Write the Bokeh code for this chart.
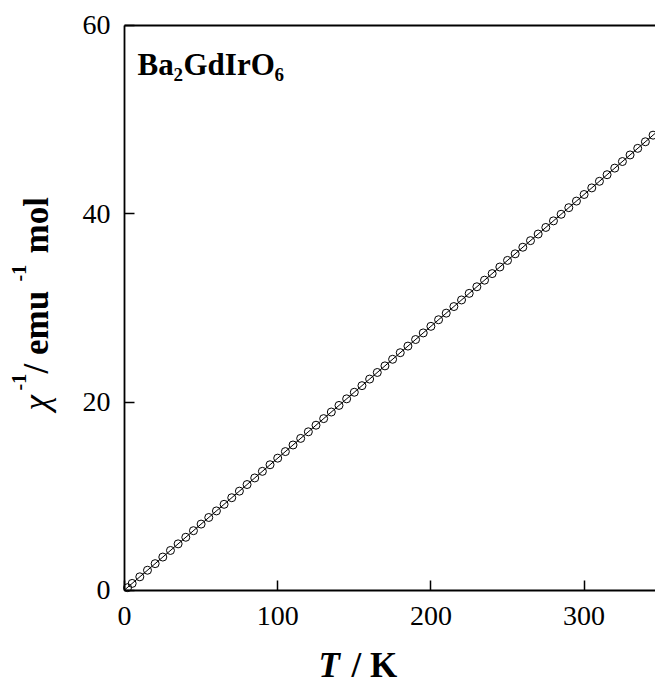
import math
from bokeh.plotting import figure
from bokeh.models import LinearAxis, Label, FixedTicker, Range1d
from bokeh.embed import file_html
from bokeh.resources import INLINE

# Data
temperature = [2, 5, 10, 15, 20, 25, 30, 35, 40, 45, 50, 55, 60, 65, 70, 75, 80, 85, 90, 95,
               100, 105, 110, 115, 120, 125, 130, 135, 140, 145, 150, 155, 160, 165, 170, 175,
               180, 185, 190, 195, 200, 205, 210, 215, 220, 225, 230, 235, 240, 245, 250, 255,
               260, 265, 270, 275, 280, 285, 290, 295, 300, 305, 310, 315, 320, 325, 330, 335,
               340, 345, 350]
inv_chi = [0.30, 0.75, 1.45, 2.15, 2.85, 3.55, 4.25, 4.95, 5.65, 6.35, 7.05, 7.75, 8.45, 9.15,
           9.85, 10.55, 11.25, 11.95, 12.65, 13.35, 14.05, 14.75, 15.45, 16.15, 16.85, 17.55,
           18.25, 18.95, 19.65, 20.35, 21.05, 21.75, 22.45, 23.15, 23.85, 24.55, 25.25, 25.95,
           26.65, 27.35, 28.05, 28.75, 29.45, 30.15, 30.85, 31.55, 32.25, 32.95, 33.65, 34.35,
           35.05, 35.75, 36.45, 37.15, 37.85, 38.55, 39.25, 39.95, 40.65, 41.35, 42.05, 42.75,
           43.45, 44.15, 44.85, 45.55, 46.25, 46.95, 47.65, 48.35, 49.05]
fit_t = [0, 350]
fit_v = [0.05, 49.05]
x_ticks = [0, 100, 200, 300]
y_ticks = [0, 20, 40, 60]
X_MAX = 346.6
Y_MAX = 60

SERIF = "Liberation Serif"
W, H = 655, 685

# frame covers the whole canvas; axes are fixed at T=0 / value=0
p = figure(width=W, height=H, output_backend="svg", toolbar_location=None,
           x_range=Range1d(-80.94, X_MAX), y_range=Range1d(-10.09, 62.65),
           min_border=0, x_axis_location=None, y_axis_location=None)
p.outline_line_color = None
p.grid.visible = False
p.background_fill_color = "white"
p.border_fill_color = "white"

def style(ax, ticks):
    ax.ticker = FixedTicker(ticks=ticks)
    ax.axis_line_width = 1.8
    ax.axis_line_color = "black"
    ax.major_tick_in = 10
    ax.major_tick_out = 0
    ax.major_tick_line_width = 1.5
    ax.major_tick_line_color = "black"
    ax.minor_tick_line_color = None
    ax.major_label_text_font = SERIF
    ax.major_label_text_font_size = "28px"
    ax.major_label_text_color = "black"

xb = LinearAxis(fixed_location=0, bounds=(0, X_MAX))
style(xb, x_ticks)
xb.major_label_standoff = 17
p.add_layout(xb, "below")

yl = LinearAxis(fixed_location=0, bounds=(0, Y_MAX))
style(yl, y_ticks)
yl.major_label_standoff = 14
p.add_layout(yl, "left")

xt = LinearAxis(fixed_location=Y_MAX, bounds=(0, X_MAX))
style(xt, [])
p.add_layout(xt, "above")

# fit line and data
p.line(fit_t, fit_v, line_color="black", line_width=1)
p.scatter(temperature, inv_chi, marker="circle", size=8, fill_color=None,
          line_color="black", line_width=1)

# helpers: page coords -> data coords
def dx(px):
    return (px - 124) / 1.532

def dy(py):
    return (590 - py) / 9.417

def lab(text, px, py, size, style="bold", angle=0.0):
    p.add_layout(Label(x=dx(px), y=dy(py), text=text, text_font=SERIF,
                       text_font_size=f"{size}px", text_font_style=style,
                       text_color="black", angle=angle, angle_units="rad",
                       text_align="left", text_baseline="alphabetic"))

# compound name
lab("Ba", 137, 64, 31)
lab("2", 173, 74, 19)
lab("GdIrO", 183, 64, 31)
lab("6", 274, 74, 19)

# x axis title
lab("T", 318, 665, 35, style="bold italic")
lab("/ K", 351, 665, 35)

# y axis title (rotated, reading upward)
R = math.pi / 2
lab("\u03c7", 36, 410, 35, style="italic", angle=R)
lab("-1", 18, 390, 20, angle=R)
lab(" / emu", 36, 373, 35, angle=R)
lab("-1", 18, 281, 20, angle=R)
lab("mol", 36, 253, 35, angle=R)

open("out.html", "w").write(file_html(p, INLINE))
